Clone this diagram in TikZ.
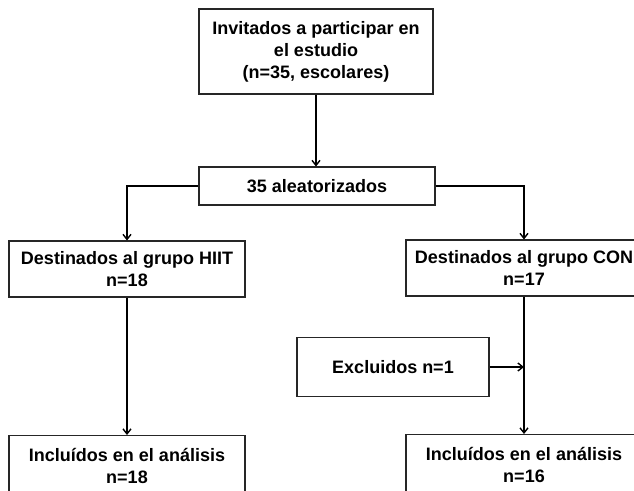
\documentclass[tikz,border=0pt]{standalone}
\usepackage{fontspec}
\setmainfont{Liberation Sans}
\usetikzlibrary{arrows.meta}
\begin{document}
\begin{tikzpicture}[x=1pt,y=-1pt,
  box/.style={draw=black!85, line width=1.1pt, fill=white, minimum width=236pt,
    inner sep=0pt, align=center, font=\fontsize{18}{22}\selectfont\bfseries},
  conn/.style={line width=1.8pt, -{Straight Barb[length=5pt,width=8pt,line width=1.4pt]}}]
\clip (0,0) rectangle (634,490);
\fill[white] (0,0) rectangle (634,490);
\node[box, minimum width=234pt, minimum height=85pt] (invit) at (316,51.5)
  {Invitados a participar en\\el estudio\\(n=35, escolares)};
\node[box, minimum height=38pt] (rand) at (317,186) {35 aleatorizados};
\node[box, minimum height=56pt] (hiit) at (127,269) {Destinados al grupo HIIT\\n=18};
\node[box, minimum height=56pt] (con) at (524,268) {Destinados al grupo CON\\n=17};
\node[box, minimum width=192pt, minimum height=59pt] (excl) at (393,367) {Excluidos n=1};
\node[box, minimum height=60pt, anchor=north] (inch) at (127,435) {Incluídos en el análisis\\n=18};
\node[box, minimum height=60pt, anchor=north] (incc) at (524,434) {Incluídos en el análisis\\n=16};
\draw[conn] (invit.south) -- (invit.south |- rand.north);
\draw[conn] (rand.west) -| (hiit.north);
\draw[conn] (rand.east) -| (con.north);
\draw[conn] (hiit.south) -- (inch.north);
\draw[conn] (con.south) -- (incc.north);
\draw[conn] (excl.east) -- (excl.east -| con.south);
\end{tikzpicture}
\end{document}
